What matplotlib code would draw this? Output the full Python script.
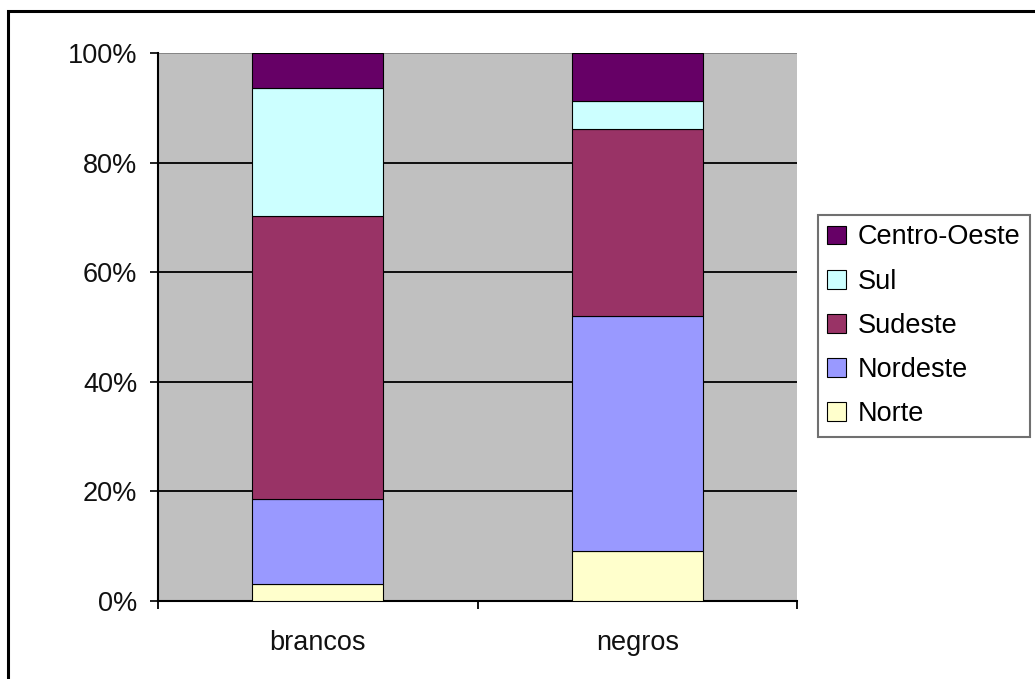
import matplotlib
matplotlib.use("Agg")
import matplotlib.pyplot as plt
from matplotlib.patches import Rectangle
import numpy as np

plt.rcParams['font.family'] = ['Liberation Sans', 'DejaVu Sans']

# Share of each group living in each region (percent)
groups = ["brancos", "negros"]
regions = ["Norte", "Nordeste", "Sudeste", "Sul", "Centro-Oeste"]
norte = [3.1, 9.1]
nordeste = [15.5, 43.0]
sudeste = [51.7, 34.1]
sul = [23.4, 5.1]
centro_oeste = [6.3, 8.7]
series = [norte, nordeste, sudeste, sul, centro_oeste]
colors = ["#FFFFCC", "#9999FF", "#993366", "#CCFFFF", "#660066"]
yticks = [0, 20, 40, 60, 80, 100]
ytick_labels = ["0%", "20%", "40%", "60%", "80%", "100%"]

fig = plt.figure(figsize=(10.35, 6.79), dpi=100)
ax = fig.add_axes([158 / 1035, 1 - 600.7 / 679, (797 - 158) / 1035, (600.7 - 53.3) / 679])
ax.set_facecolor("#C0C0C0")

x = np.arange(len(groups))
bottom = np.zeros(len(groups))
handles = []
for vals, col, name in zip(series, colors, regions):
    b = ax.bar(x, vals, width=0.41, bottom=bottom, color=col,
               edgecolor="#000000", linewidth=0.8, label=name, zorder=3)
    handles.append(b)
    bottom += np.array(vals)

ax.set_xlim(-0.5, 1.5)
ax.set_ylim(0, 100)
ax.set_yticks(yticks)
ax.set_yticklabels(ytick_labels)
ax.yaxis.grid(True, color="black", linewidth=1.3, zorder=1)
ax.set_axisbelow(True)
# the top gridline is drawn lighter
ax.get_ygridlines()[-1].set_color("#808080")

ax.set_xticks(x)
ax.set_xticklabels(groups)
ax.set_xticks([-0.5, 0.5, 1.5], minor=True)
ax.tick_params(axis="x", which="major", length=0, pad=21, labelsize=19.5, colors="#111111")
ax.tick_params(axis="x", which="minor", length=6, width=1.3, direction="out", color="black")
ax.tick_params(axis="y", length=6, width=1.3, direction="out", pad=9, labelsize=19.5,
               colors="#111111")

for side in ("top", "right"):
    ax.spines[side].set_visible(False)
for side in ("left", "bottom"):
    ax.spines[side].set_linewidth(1.5)
    ax.spines[side].set_color("black")

leg = fig.legend(handles[::-1], regions[::-1], loc="upper left",
                 bbox_to_anchor=(818 / 1035, 1 - 215 / 679), bbox_transform=fig.transFigure,
                 borderaxespad=0, fontsize=19.5, frameon=True, fancybox=False,
                 edgecolor="#707070", framealpha=1, handlelength=0.7, handleheight=0.7,
                 handletextpad=0.4, labelspacing=0.67, borderpad=0.35)
leg.get_frame().set_linewidth(1.5)

# Outer chart border
fig.patches.append(Rectangle((8 / 1035, -0.1), 1.2, 1 - 11 / 679 + 0.1,
                             transform=fig.transFigure, fill=False,
                             edgecolor="black", linewidth=2.2))

fig.savefig("out.png", dpi=100)
